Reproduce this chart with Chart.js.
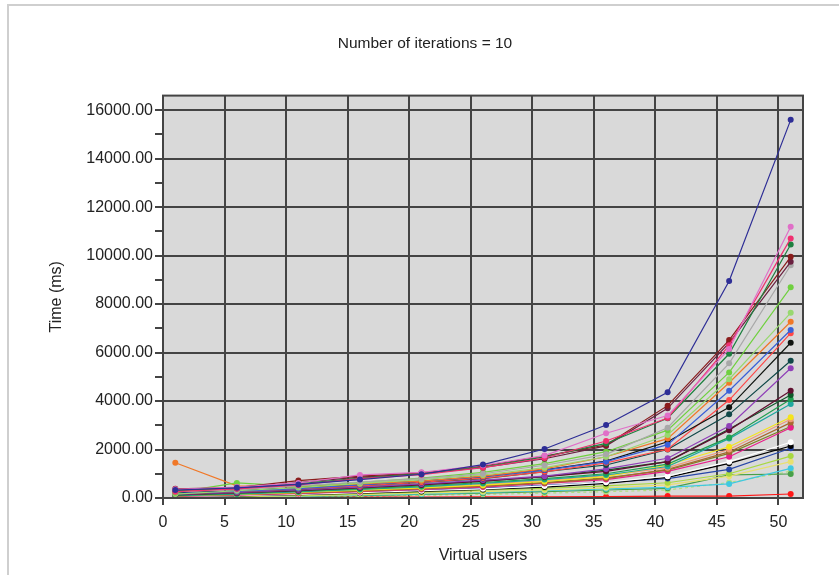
<!DOCTYPE html>
<html>
<head>
<meta charset="utf-8">
<script src="https://cdn.jsdelivr.net/npm/chart.js@4.4.1/dist/chart.umd.min.js"></script>
<style>
  html, body { margin: 0; padding: 0; background: #fff; }
  #wrap { position: relative; width: 839px; height: 575px; overflow: hidden; }
  #frame { position: absolute; left: 7px; top: 4px; width: 900px; height: 700px;
           border-top: 2px solid #cfcfcf; border-left: 2px solid #cfcfcf; }
  canvas { position: absolute; left: 0; top: 0; }
</style>
</head>
<body>
<div id="wrap">
  <div id="frame"></div>
  <canvas id="timeChart" width="839" height="575"></canvas>
</div>
<script>
// x positions: virtual users
const xUsers = [1, 6, 11, 16, 21, 26, 31, 36, 41, 46, 51];

// axis ticks (y: labelled every 2000, small mark every 1000)
const xTicks = [0, 5, 10, 15, 20, 25, 30, 35, 40, 45, 50];
const yTicks = [0, 1000, 2000, 3000, 4000, 5000, 6000, 7000, 8000, 9000, 10000,
  11000, 12000, 13000, 14000, 15000, 16000];

// response times (ms), one array per transaction
const s01 = [330, 420, 560, 760, 980, 1380, 2020, 3010, 4360, 8950, 15600];
const s02 = [360, 450, 620, 950, 1060, 1350, 1750, 2670, 3400, 6150, 11190];
const s03 = [260, 380, 540, 800, 960, 1250, 1650, 2350, 3300, 6300, 10710];
const s04 = [300, 400, 580, 820, 1000, 1280, 1700, 2250, 3290, 5950, 10460];
const s05 = [380, 430, 720, 900, 1040, 1320, 1730, 2185, 3810, 6515, 9950];
const s06 = [320, 390, 640, 860, 1000, 1260, 1620, 2150, 3700, 6400, 9745];
const s07 = [270, 340, 500, 660, 800, 1000, 1350, 1800, 2900, 5555, 9600];
const s08 = [220, 620, 480, 650, 820, 1060, 1420, 1910, 2800, 5180, 8690];
const s09 = [160, 300, 430, 600, 760, 950, 1250, 1700, 2600, 4900, 7640];
const s10 = [1455, 500, 460, 580, 700, 900, 1200, 1700, 2450, 4755, 7270];
const s11 = [190, 270, 390, 540, 700, 880, 1150, 1500, 2200, 4425, 6930];
const s12 = [210, 300, 430, 560, 700, 880, 1160, 1520, 2320, 3740, 6405];
const s13 = [180, 260, 380, 500, 650, 820, 1080, 1450, 2010, 4040, 6800];
const s14 = [160, 260, 360, 500, 640, 800, 1085, 1360, 2000, 3450, 5660];
const s15 = [150, 230, 330, 450, 580, 740, 900, 1200, 1640, 2970, 5350];
const s16 = [130, 210, 300, 420, 540, 700, 880, 1100, 1500, 2800, 4425];
const s17 = [160, 240, 320, 440, 560, 700, 880, 1150, 1500, 2850, 4250];
const s18 = [110, 180, 280, 380, 500, 640, 800, 1000, 1400, 2500, 4070];
const s19 = [100, 160, 250, 350, 460, 600, 760, 950, 1300, 2450, 3875];
const s20 = [100, 150, 230, 320, 420, 530, 680, 880, 1360, 2115, 3330];
const s21 = [120, 170, 250, 340, 440, 560, 720, 920, 1250, 2000, 3250];
const s22 = [80, 140, 200, 280, 380, 480, 620, 800, 1180, 1900, 3110];
const s23 = [70, 120, 180, 260, 350, 450, 600, 760, 1100, 1700, 2900];
const s24 = [100, 150, 220, 300, 400, 500, 640, 830, 1150, 1840, 2950];
const s25 = [60, 100, 150, 220, 300, 380, 500, 650, 900, 1500, 2300];
const s26 = [50, 90, 140, 200, 270, 350, 450, 600, 850, 1430, 2145];
const s27 = [60, 100, 160, 230, 320, 410, 520, 640, 800, 1180, 2050];
const s28 = [40, 70, 110, 170, 240, 320, 400, 500, 630, 1000, 1730];
const s29 = [30, 60, 90, 140, 200, 260, 330, 420, 540, 900, 1500];
const s30 = [30, 50, 80, 120, 170, 230, 300, 380, 440, 580, 1225];
const s31 = [20, 40, 70, 100, 150, 200, 260, 330, 400, 950, 990];
const s32 = [20, 30, 50, 80, 110, 150, 200, 260, 330, 640, 1100];
const s33 = [40, 40, 40, 45, 40, 45, 50, 55, 80, 80, 165];

const allSeries = [s01, s02, s03, s04, s05, s06, s07, s08, s09, s10, s11, s12, s13, s14, s15, s16, s17,
  s18, s19, s20, s21, s22, s23, s24, s25, s26, s27, s28, s29, s30, s31, s32, s33];

const seriesColors = ['#2e2e96', '#e070c8', '#f03070', '#1e8040', '#8a1c1c', '#6a2040', '#a8a8a8',
  '#70d040', '#98d870', '#f07828', '#3a60d8', '#101410', '#ff4848', '#104848', '#9040b8', '#601030',
  '#0f5a2a', '#20a050', '#20a8a0', '#f4e41c', '#f09878', '#a86830', '#e8208a', '#808028', '#ffffff',
  '#000000', '#2848a8', '#a8d840', '#e8e070', '#40c8e0', '#48a048', '#b0e080', '#ff1818'];

const dashedSeries = [31];

const datasets = allSeries.map((vals, idx) => ({
  label: 'T' + (idx + 1),
  data: vals.map((v, i) => ({ x: xUsers[i], y: v })),
  borderColor: seriesColors[idx],
  backgroundColor: seriesColors[idx],
  borderWidth: 1.2,
  borderDash: dashedSeries.includes(idx) ? [3, 3] : [],
  pointRadius: 3,
  pointBorderWidth: 0,
  pointHoverRadius: 3,
  tension: 0
}));

// gray plot area with a dark frame
const plotBox = {
  id: 'plotBox',
  beforeDraw(c) {
    const a = c.chartArea;
    c.ctx.save();
    c.ctx.fillStyle = '#d9d9d9';
    c.ctx.fillRect(a.left, a.top, a.right - a.left, a.bottom - a.top);
    c.ctx.restore();
  },
  afterDraw(c) {
    const a = c.chartArea;
    c.ctx.save();
    c.ctx.strokeStyle = '#444';
    c.ctx.lineWidth = 2;
    c.ctx.strokeRect(a.left, a.top, a.right - a.left, a.bottom - a.top);
    c.ctx.restore();
  }
};

const font = { family: '"Liberation Sans", Arial, sans-serif', size: 16 };

new Chart(document.getElementById('timeChart').getContext('2d'), {
  type: 'line',
  data: { datasets },
  options: {
    responsive: false,
    animation: false,
    layout: { padding: { left: 47, right: 36, top: 0, bottom: 0 } },
    plugins: {
      legend: { display: false },
      tooltip: { enabled: false },
      title: {
        display: true,
        text: 'Number of iterations = 10',
        color: '#222',
        font: { ...font, size: 15.5, weight: 'normal' },
        padding: { top: 34, bottom: 43 }
      }
    },
    scales: {
      x: {
        type: 'linear',
        min: 0,
        max: 52,
        afterFit: s => { s.height = 77; },
        afterBuildTicks: s => { s.ticks = xTicks.map(v => ({ value: v })); },
        ticks: { color: '#222', font, padding: 8, maxRotation: 0 },
        grid: { color: '#444', lineWidth: 2, tickLength: 7, tickColor: '#444' },
        border: { display: false },
        title: { display: true, text: 'Virtual users', color: '#222', font, padding: { top: 0, bottom: 10 } }
      },
      y: {
        min: 0,
        max: 16600,
        afterFit: s => { s.width = 116; },
        afterBuildTicks: s => { s.ticks = yTicks.map(v => ({ value: v })); },
        ticks: {
          color: '#222', font, padding: 2, autoSkip: false,
          callback: v => (v % 2000 === 0 ? v.toFixed(2) : '')
        },
        grid: {
          color: ctx => (ctx.tick && ctx.tick.value % 2000 === 0 ? '#444' : 'rgba(0,0,0,0)'),
          tickColor: '#444',
          lineWidth: 2,
          tickLength: 8
        },
        border: { display: false },
        title: { display: true, text: 'Time (ms)', color: '#222', font, padding: { top: 0, bottom: 0 } }
      }
    }
  },
  plugins: [plotBox]
});
</script>
</body>
</html>
